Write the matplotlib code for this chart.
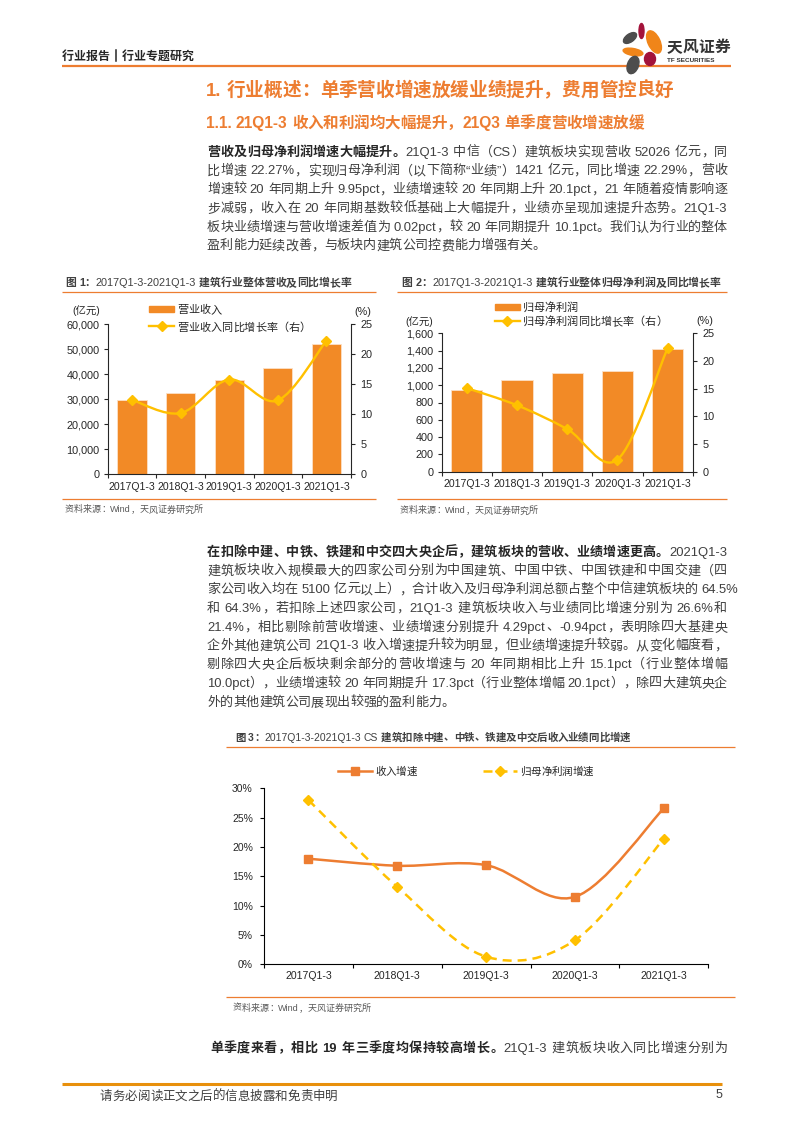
import numpy as np
import matplotlib
matplotlib.use("Agg")
import matplotlib.pyplot as plt
from matplotlib.font_manager import FontProperties
from matplotlib.path import Path
from matplotlib.patches import PathPatch, Ellipse, Rectangle
from matplotlib.ticker import FuncFormatter

FAM = ["Liberation Sans", "Noto Sans CJK SC", "DejaVu Sans"]
plt.rcParams["font.family"] = FAM

# ---- data ----
periods = ["2017Q1-3", "2018Q1-3", "2019Q1-3", "2020Q1-3", "2021Q1-3"]
revenue = [29700, 32700, 37900, 42550, 52026]          # 亿元
revenue_yoy = [12.4, 10.2, 15.8, 12.32, 22.27]         # %
profit = [945, 1056, 1137, 1163, 1421]                 # 亿元
profit_yoy = [15.1, 12.0, 7.7, 2.19, 22.29]            # %
ex4_revenue_yoy = [18.0, 16.8, 16.9, 11.5, 26.6]       # %
ex4_profit_yoy = [28.0, 13.2, 1.3, 4.1, 21.4]          # %

ORANGE = "#ED7D31"
BAR = "#F28A26"
GOLD = "#FFC000"
TEXT = "#3F3F3F"
DARK = "#262626"

W, H = 793, 1122
fig = plt.figure(figsize=(W / 100, H / 100), dpi=100)
fig.patch.set_facecolor("white")
bg = fig.add_axes([0, 0, 1, 1])
bg.set_xlim(0, W)
bg.set_ylim(H, 0)
bg.axis("off")
renderer = fig.canvas.get_renderer()

_cache = {}


def advance(s, size, weight):
    key = (s, size, weight)
    if key not in _cache:
        fp = FontProperties(family=FAM, size=size, weight=weight)
        a = renderer.get_text_width_height_descent("x" + s + "x", fp, ismath=False)[0]
        b = renderer.get_text_width_height_descent("xx", fp, ismath=False)[0]
        _cache[key] = a - b
    return _cache[key]


def tokenize(segments):
    toks = []
    for text, weight in segments:
        buf = ""
        for ch in text:
            if ch == " " or ord(ch) >= 0x2E80:
                if buf:
                    toks.append((buf, weight))
                    buf = ""
                toks.append((ch, weight))
            else:
                buf += ch
        if buf:
            toks.append((buf, weight))
    return toks


def put_line(segments, x0, y, size, color=TEXT, bold_color=DARK, right=None):
    toks = tokenize(segments)
    widths = [advance(t, size, w) for t, w in toks]
    gap = 0
    if right is not None and len(toks) > 1:
        gap = (right - x0 - sum(widths)) / (len(toks) - 1)
    base = y + 0.38 * size * 100 / 72
    x = x0
    for (t, w), adv in zip(toks, widths):
        if t != " ":
            bg.text(x, base, t, fontsize=size, fontweight=w, family=FAM,
                    color=bold_color if w == "bold" else color,
                    ha="left", va="baseline")
        x += adv + gap


def paragraph(lines, x0, y0, size, step, rights):
    for i, segs in enumerate(lines):
        put_line(segs, x0, y0 + i * step, size, right=rights[i])


def hline(x0, x1, y, color=ORANGE, lw=0.9):
    bg.plot([x0, x1], [y, y], color=color, lw=lw, solid_capstyle="butt")


def rect(l, t, r, b):
    return [l / W, 1 - b / H, (r - l) / W, (b - t) / H]


def smooth_path(xs, ys):
    pts = np.column_stack([xs, ys]).astype(float)
    ext = np.vstack([pts[0], pts, pts[-1]])
    verts = [pts[0]]
    codes = [Path.MOVETO]
    for i in range(len(pts) - 1):
        p0, p1, p2, p3 = ext[i], ext[i + 1], ext[i + 2], ext[i + 3]
        verts += [p1 + (p2 - p0) / 6, p2 - (p3 - p1) / 6, p2]
        codes += [Path.CURVE4] * 3
    return Path(verts, codes)


# ---- header ----
put_line([("行业报告", "bold")], 62, 55, 8.6, bold_color=DARK)
put_line([("行业专题研究", "bold")], 122, 55, 8.6, bold_color=DARK)
bg.plot([115.5, 115.5], [49.5, 60.5], color=DARK, lw=1.1)
hline(62, 731, 65.5, lw=1.6)
petals = [
    (630, 38, 15, 8, -35, "#4D4D4D"),
    (641.5, 31, 5, 15, 0, "#A3123A"),
    (654, 42, 12, 24, -25, "#F08519"),
    (633, 52, 20, 7, 10, "#F08519"),
    (633, 65, 11, 18, 20, "#4D4D4D"),
    (650, 59, 11, 13, 0, "#A3123A"),
]
for cx, cy, w, h, ang, c in petals:
    bg.add_patch(Ellipse((cx, cy), w, h, angle=ang, color=c, zorder=3))
put_line([("天风证券", "bold")], 667, 46, 11.3, bold_color="#333333")
bg.text(667, 60, "TF SECURITIES", fontsize=4.6, fontweight="bold", color="#333333",
        ha="left", va="center", family=FAM)

# ---- titles ----
put_line([("1. 行业概述：单季营收增速放缓业绩提升，费用管控良好", "bold")], 206, 89, 13.4,
         bold_color=ORANGE)
put_line([("1.1. 21Q1-3 收入和利润均大幅提升，21Q3 单季度营收增速放缓", "bold")], 206, 122, 11.2,
         bold_color=ORANGE)

para1 = [
    [("营收及归母净利润增速大幅提升。", "bold"), ("21Q1-3 中信（CS）建筑板块实现营收 52026 亿元，同", "normal")],
    [("比增速 22.27%，实现归母净利润（以下简称“业绩”）1421 亿元，同比增速 22.29%，营收", "normal")],
    [("增速较 20 年同期上升 9.95pct，业绩增速较 20 年同期上升 20.1pct，21 年随着疫情影响逐", "normal")],
    [("步减弱，收入在 20 年同期基数较低基础上大幅提升，业绩亦呈现加速提升态势。21Q1-3", "normal")],
    [("板块业绩增速与营收增速差值为 0.02pct，较 20 年同期提升 10.1pct。我们认为行业的整体", "normal")],
    [("盈利能力延续改善，与板块内建筑公司控费能力增强有关。", "normal")],
]
paragraph(para1, 207, 150.7, 9.4, 18.72, [727] * 5 + [None])

para2 = [
    [("在扣除中建、中铁、铁建和中交四大央企后，建筑板块的营收、业绩增速更高。", "bold"), ("2021Q1-3", "normal")],
    [("建筑板块收入规模最大的四家公司分别为中国建筑、中国中铁、中国铁建和中国交建（四", "normal")],
    [("家公司收入均在 5100 亿元以上），合计收入及归母净利润总额占整个中信建筑板块的 64.5%", "normal")],
    [("和 64.3%，若扣除上述四家公司，21Q1-3 建筑板块收入与业绩同比增速分别为 26.6%和", "normal")],
    [("21.4%，相比剔除前营收增速、业绩增速分别提升 4.29pct、-0.94pct，表明除四大基建央", "normal")],
    [("企外其他建筑公司 21Q1-3 收入增速提升较为明显，但业绩增速提升较弱。从变化幅度看，", "normal")],
    [("剔除四大央企后板块剩余部分的营收增速与 20 年同期相比上升 15.1pct（行业整体增幅", "normal")],
    [("10.0pct），业绩增速较 20 年同期提升 17.3pct（行业整体增幅 20.1pct），除四大建筑央企", "normal")],
    [("外的其他建筑公司展现出较强的盈利能力。", "normal")],
]
paragraph(para2, 207, 550.7, 9.4, 18.75, [727, 727, 738, 727, 727, 727, 727, 727, None])

put_line([("单季度来看，相比 19 年三季度均保持较高增长。", "bold"),
          ("21Q1-3 建筑板块收入同比增速分别为", "normal")], 210, 1046.7, 9.4, right=727)

# ---- footer ----
hline(62, 722, 1083.5, color="#E8900C", lw=2.2)
put_line([("请务必阅读正文之后的信息披露和免责申明", "normal")], 100, 1095, 9, color="#404040")
bg.text(722, 1095, "5", fontsize=9, color="#404040", ha="right", va="center")

# ---- captions, rules, sources ----
put_line([("图 1：", "bold"), ("2017Q1-3-2021Q1-3 ", "normal"), ("建筑行业整体营收及同比增长率", "bold")],
         65, 281.7, 7.8, color="#404040", bold_color="#404040")
put_line([("图 2：", "bold"), ("2017Q1-3-2021Q1-3 ", "normal"), ("建筑行业整体归母净利润及同比增长率", "bold")],
         401.5, 281.7, 7.8, color="#404040", bold_color="#404040")
put_line([("图 3：", "bold"), ("2017Q1-3-2021Q1-3 CS ", "normal"),
          ("建筑扣除中建、中铁、铁建及中交后收入业绩同比增速", "bold")],
         235, 736.7, 7.5, color="#404040", bold_color="#404040")
hline(62, 376, 291.7)
hline(397, 727, 291.7)
hline(62, 376, 498.7)
hline(397, 727, 499)
hline(226, 735, 747.3)
hline(226, 735, 997.3)
src = [("资料来源：Wind，天风证券研究所", "normal")]
put_line(src, 65, 509, 6.5, color="#595959")
put_line(src, 400, 510, 6.5, color="#595959")
put_line(src, 233, 1007.3, 6.5, color="#595959")


# ---- bar + growth line charts ----
def bar_line_chart(box, bars, rates, ymax, ystep, width):
    x = np.arange(len(periods))
    ax = fig.add_axes(rect(*box))
    ax.set_facecolor("none")
    ax.bar(x, bars, width=width, color=BAR, edgecolor="#FCE0C6", linewidth=0.6, zorder=2)
    ax.set_xlim(-0.5, len(periods) - 0.5)
    ax.set_ylim(0, ymax)
    ax.set_yticks(np.arange(0, ymax + 1, ystep))
    ax.yaxis.set_major_formatter(FuncFormatter(lambda v, p: f"{v:,.0f}"))
    ax.set_xticks(x, periods)
    ax.set_xticks(np.arange(-0.5, len(periods), 1), minor=True)
    ax.tick_params(axis="x", which="major", length=0, pad=5.6, labelsize=7.6, labelcolor=DARK)
    ax.tick_params(axis="x", which="minor", length=3, width=0.8, color=DARK)
    ax.tick_params(axis="y", length=3, width=0.8, pad=3, labelsize=7.8, color=DARK, labelcolor=DARK)
    for s in ["top", "right"]:
        ax.spines[s].set_visible(False)
    for s in ["left", "bottom"]:
        ax.spines[s].set_color(DARK)
        ax.spines[s].set_linewidth(0.8)
    r = ax.twinx()
    r.set_facecolor("none")
    r.add_patch(PathPatch(smooth_path(x, rates), fc="none", ec=GOLD, lw=1.7, zorder=3))
    r.plot(x, rates, ls="none", marker="D", ms=4.6, color=GOLD, zorder=4)
    r.set_ylim(0, 25)
    r.set_yticks(range(0, 26, 5))
    r.tick_params(axis="y", length=3, width=0.8, pad=4, labelsize=7.8, color=DARK, labelcolor=DARK)
    for s in ["top", "left", "bottom"]:
        r.spines[s].set_visible(False)
    r.spines["right"].set_color(DARK)
    r.spines["right"].set_linewidth(0.8)
    return ax, r


bar_line_chart((107.7, 324.3, 350.7, 474.3), revenue, revenue_yoy, 60000, 10000, 0.6)
bar_line_chart((441.7, 333.3, 692.7, 471.7), profit, profit_yoy, 1600, 200, 0.62)


def legend_bar_line(x0, y_bar, y_line, bar_label, line_label):
    bg.add_patch(Rectangle((x0, y_bar - 3.2), 25, 6.4, color=BAR))
    put_line([(bar_label, "normal")], x0 + 28, y_bar, 8, color=DARK)
    bg.plot([x0, x0 + 25], [y_line, y_line], color=GOLD, lw=1.7)
    bg.plot([x0 + 12.5], [y_line], ls="none", marker="D", ms=4.6, color=GOLD)
    put_line([(line_label, "normal")], x0 + 28, y_line, 8, color=DARK)


legend_bar_line(149, 308.7, 326.3, "营业收入", "营业收入同比增长率（右）")
legend_bar_line(494.5, 306.7, 320.7, "归母净利润", "归母净利润同比增长率（右）")
bg.text(86, 311, "(亿元)", fontsize=7.5, color=DARK, ha="center", va="center")
bg.text(363, 312, "(%)", fontsize=7.8, color=DARK, ha="center", va="center")
bg.text(419, 321.7, "(亿元)", fontsize=7.5, color=DARK, ha="center", va="center")
bg.text(705, 321, "(%)", fontsize=7.8, color=DARK, ha="center", va="center")

# ---- chart 3: growth ex big four ----
x = np.arange(len(periods))
ax3 = fig.add_axes(rect(264, 788.3, 708.3, 964.3))
ax3.set_facecolor("none")
ax3.add_patch(PathPatch(smooth_path(x, ex4_revenue_yoy), fc="none", ec=ORANGE, lw=1.8, zorder=3))
ax3.plot(x, ex4_revenue_yoy, ls="none", marker="s", ms=5.4, color=ORANGE, zorder=4)
ax3.add_patch(PathPatch(smooth_path(x, ex4_profit_yoy), fc="none", ec=GOLD, lw=1.8,
                        linestyle=(0, (3.6, 2.4)), zorder=3))
ax3.plot(x, ex4_profit_yoy, ls="none", marker="D", ms=5, color=GOLD, zorder=4)
ax3.set_xlim(-0.5, len(periods) - 0.5)
ax3.set_ylim(0, 30)
ax3.set_yticks(range(0, 31, 5))
ax3.yaxis.set_major_formatter(FuncFormatter(lambda v, p: f"{v:.0f}%"))
ax3.set_xticks(x, periods)
ax3.set_xticks(np.arange(-0.5, len(periods), 1), minor=True)
ax3.tick_params(axis="x", which="major", length=0, pad=4.6, labelsize=7.6, labelcolor=DARK)
ax3.tick_params(axis="x", which="minor", length=3, width=0.8, color="black")
ax3.tick_params(axis="y", length=3, width=0.8, pad=5, labelsize=7.5, color="black", labelcolor=DARK)
for s in ["top", "right"]:
    ax3.spines[s].set_visible(False)
for s in ["left", "bottom"]:
    ax3.spines[s].set_color("black")
    ax3.spines[s].set_linewidth(0.8)

bg.plot([338, 372], [771, 771], color=ORANGE, lw=1.8)
bg.plot([355], [771], ls="none", marker="s", ms=5.4, color=ORANGE)
put_line([("收入增速", "normal")], 375, 771, 7.6, color=DARK)
bg.plot([483, 517], [771, 771], color=GOLD, lw=1.8, linestyle=(0, (3.6, 2.4)))
bg.plot([500], [771], ls="none", marker="D", ms=5, color=GOLD)
put_line([("归母净利润增速", "normal")], 520, 771, 7.6, color=DARK)

fig.savefig("out.png", dpi=100, facecolor="white")
